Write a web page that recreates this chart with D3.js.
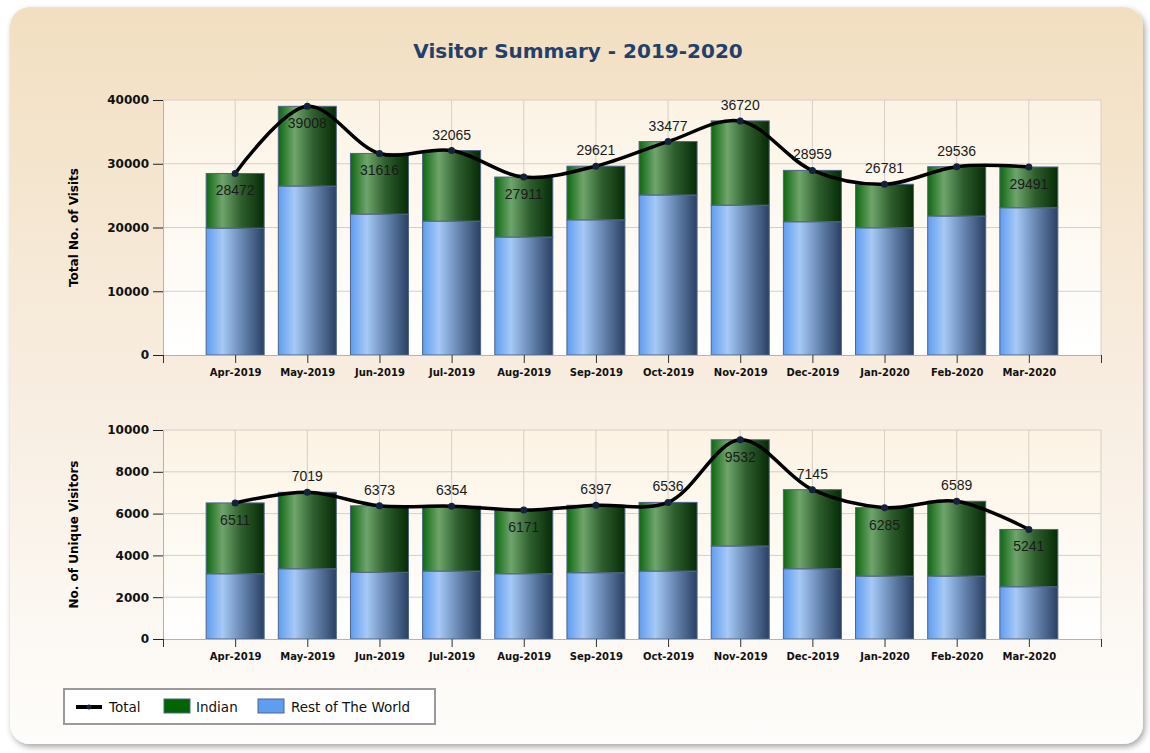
<!doctype html>
<html>
<head>
<script src="https://cdn.jsdelivr.net/npm/d3@7"></script>
<style>
  body { margin: 0; background: #ffffff; }
</style>
</head>
<body>
<svg width="1150" height="753"></svg>
<script>
// data
var months = ["Apr-2019", "May-2019", "Jun-2019", "Jul-2019", "Aug-2019", "Sep-2019",
              "Oct-2019", "Nov-2019", "Dec-2019", "Jan-2020", "Feb-2020", "Mar-2020"];
var visitsTotal = [28472, 39008, 31616, 32065, 27911, 29621, 33477, 36720, 28959, 26781, 29536, 29491];
var visitsRest  = [19900, 26500, 22100, 21000, 18500, 21200, 25100, 23500, 20900, 19950, 21800, 23100];
var visitorsTotal = [6511, 7019, 6373, 6354, 6171, 6397, 6536, 9532, 7145, 6285, 6589, 5241];
var visitorsRest  = [3120, 3360, 3190, 3250, 3120, 3170, 3250, 4450, 3360, 3010, 3010, 2500];
var visitsLabelPos   = ["below", "below", "below", "above", "below", "above", "above", "above", "above", "above", "above", "below"];
var visitorsLabelPos = ["below", "above", "above", "above", "below", "above", "above", "below", "above", "below", "above", "below"];
var visitsTicks = [0, 10000, 20000, 30000, 40000];
var visitorsTicks = [0, 2000, 4000, 6000, 8000, 10000];

var svg = d3.select("svg");
var defs = svg.append("defs");

// gradients
function hGrad(id, stops) {
    var g = defs.append("linearGradient").attr("id", id)
        .attr("x1", "0%").attr("x2", "100%").attr("y1", "0%").attr("y2", "0%");
    stops.forEach(function (s) { g.append("stop").attr("offset", s[0]).attr("stop-color", s[1]); });
}
function vGrad(id, stops) {
    var g = defs.append("linearGradient").attr("id", id)
        .attr("x1", "0%").attr("x2", "0%").attr("y1", "0%").attr("y2", "100%");
    stops.forEach(function (s) { g.append("stop").attr("offset", s[0]).attr("stop-color", s[1]); });
}
hGrad("blueBar", [["0%", "#5f9df0"], ["28%", "#a6c9f6"], ["60%", "#6b8ab5"], ["100%", "#2a4063"]]);
hGrad("greenBar", [["0%", "#0d680f"], ["28%", "#6fa56d"], ["60%", "#2f5f2e"], ["100%", "#062b06"]]);
vGrad("panelBg", [["0%", "#f2dfc1"], ["55%", "#f8eee2"], ["100%", "#fefdfb"]]);
vGrad("plotBg", [["0%", "#fcf3e4"], ["100%", "#ffffff"]]);

var shadow = defs.append("filter").attr("id", "shadow")
    .attr("x", "-5%").attr("y", "-5%").attr("width", "110%").attr("height", "110%");
shadow.append("feDropShadow").attr("dx", 2).attr("dy", 3).attr("stdDeviation", 3)
    .attr("flood-color", "#000").attr("flood-opacity", 0.35);

// panel
svg.append("rect")
    .attr("x", 10).attr("y", 7).attr("width", 1133).attr("height", 737)
    .attr("rx", 20).attr("ry", 20)
    .attr("fill", "url(#panelBg)")
    .attr("filter", "url(#shadow)");

// title
svg.append("text")
    .attr("x", 578).attr("y", 58)
    .attr("text-anchor", "middle")
    .style("font-family", "DejaVu Sans")
    .style("font-weight", "bold")
    .style("font-size", "20px")
    .style("fill", "#243f6b")
    .text("Visitor Summary - 2019-2020");

var x = d3.scaleLinear().domain([0, 13]).range([163, 1101]);
var barW = 58;

function drawChart(opt) {
    var y = d3.scaleLinear().domain([0, opt.max]).range([opt.bottom, opt.top]);
    var g = svg.append("g");

    g.append("rect")
        .attr("x", x(0)).attr("y", opt.top)
        .attr("width", x(13) - x(0)).attr("height", opt.bottom - opt.top)
        .attr("fill", "url(#plotBg)");

    // grid
    g.append("g").selectAll("line.h").data(opt.ticks.slice(1)).enter().append("line")
        .attr("x1", x(0)).attr("x2", x(13))
        .attr("y1", function (d) { return y(d); }).attr("y2", function (d) { return y(d); })
        .style("stroke", "#d6cfc4").style("stroke-width", 1);
    g.append("g").selectAll("line.v").data(d3.range(1, 14)).enter().append("line")
        .attr("x1", function (d) { return x(d); }).attr("x2", function (d) { return x(d); })
        .attr("y1", opt.top).attr("y2", opt.bottom)
        .style("stroke", "#d6cfc4").style("stroke-width", 1);

    // bars
    var idx = d3.range(months.length);
    g.append("g").selectAll("rect").data(idx).enter().append("rect")
        .attr("x", function (i) { return x(i + 1) - barW / 2; })
        .attr("y", function (i) { return y(opt.rest[i]); })
        .attr("width", barW)
        .attr("height", function (i) { return y(0) - y(opt.rest[i]); })
        .attr("fill", "url(#blueBar)")
        .style("stroke", "#4e6587").style("stroke-width", 1);
    g.append("g").selectAll("rect").data(idx).enter().append("rect")
        .attr("x", function (i) { return x(i + 1) - barW / 2; })
        .attr("y", function (i) { return y(opt.total[i]); })
        .attr("width", barW)
        .attr("height", function (i) { return y(opt.rest[i]) - y(opt.total[i]); })
        .attr("fill", "url(#greenBar)")
        .style("stroke", "#4e6587").style("stroke-width", 1);

    // axes
    var yAxis = g.append("g")
        .attr("transform", "translate(" + x(0) + ",0)")
        .call(d3.axisLeft(y).tickValues(opt.ticks).tickSize(10).tickPadding(4).tickSizeOuter(0)
            .tickFormat(d3.format("d")));
    yAxis.select(".domain").style("stroke", "#b9b2a8");
    yAxis.selectAll(".tick line").style("stroke", "#222");
    yAxis.selectAll("text")
        .style("font-family", "DejaVu Sans").style("font-weight", "bold")
        .style("font-size", "12px").style("fill", "#111");

    var xAxis = g.append("g")
        .attr("transform", "translate(0," + opt.bottom + ")")
        .call(d3.axisBottom(x).tickValues(d3.range(0, 14)).tickSize(8).tickPadding(6)
            .tickFormat(function (d) { return months[d - 1] || ""; }));
    xAxis.select(".domain").style("stroke", "#b9b2a8");
    xAxis.selectAll(".tick line").style("stroke", "#333");
    xAxis.selectAll("text")
        .style("font-family", "DejaVu Sans").style("font-weight", "bold")
        .style("font-size", "10px").style("fill", "#111");

    // y title
    svg.append("text")
        .attr("text-anchor", "middle")
        .attr("transform", "translate(78," + (opt.top + opt.bottom) / 2 + ")rotate(-90)")
        .style("font-family", "DejaVu Sans").style("font-weight", "bold")
        .style("font-size", "12px").style("fill", "#000")
        .text(opt.title);

    // total line
    var line = d3.line()
        .x(function (i) { return x(i + 1); })
        .y(function (i) { return y(opt.total[i]); })
        .curve(d3.curveCatmullRom.alpha(0.5));
    g.append("path")
        .datum(idx)
        .attr("d", line)
        .style("fill", "none").style("stroke", "#000").style("stroke-width", 3.5);
    g.append("g").selectAll("circle").data(idx).enter().append("circle")
        .attr("cx", function (i) { return x(i + 1); })
        .attr("cy", function (i) { return y(opt.total[i]); })
        .attr("r", 3.5)
        .style("fill", "#15223a");

    g.append("g").selectAll("text").data(idx).enter().append("text")
        .attr("x", function (i) { return x(i + 1); })
        .attr("y", function (i) { return y(opt.total[i]) + (opt.labelPos[i] === "above" ? -11 : 22); })
        .attr("text-anchor", "middle")
        .style("font-family", "Liberation Sans").style("font-size", "14px")
        .style("fill", "#1a1a1a")
        .text(function (i) { return opt.total[i]; });
}

drawChart({ top: 100, bottom: 355, max: 40000, ticks: visitsTicks, total: visitsTotal,
            rest: visitsRest, labelPos: visitsLabelPos, title: "Total No. of Visits" });
drawChart({ top: 430, bottom: 639, max: 10000, ticks: visitorsTicks, total: visitorsTotal,
            rest: visitorsRest, labelPos: visitorsLabelPos, title: "No. of Unique Visitors" });

// legend
var legend = svg.append("g");
legend.append("rect")
    .attr("x", 64).attr("y", 689).attr("width", 371).attr("height", 35)
    .style("fill", "#fff").style("stroke", "#9a9a9a").style("stroke-width", 2);
legend.append("line")
    .attr("x1", 76).attr("x2", 102).attr("y1", 707).attr("y2", 707)
    .style("stroke", "#000").style("stroke-width", 4);
legend.append("circle").attr("cx", 89).attr("cy", 707).attr("r", 2.5).style("fill", "#15223a");
legend.append("rect").attr("x", 164).attr("y", 699).attr("width", 26).attr("height", 14)
    .style("fill", "#006400").style("stroke", "#4e6587");
legend.append("rect").attr("x", 258).attr("y", 699).attr("width", 26).attr("height", 14)
    .style("fill", "#5f9df0").style("stroke", "#4e6587");
var legendItems = [["Total", 109], ["Indian", 196], ["Rest of The World", 291]];
legend.selectAll("text.item").data(legendItems).enter().append("text")
    .attr("x", function (d) { return d[1]; }).attr("y", 712)
    .style("font-family", "DejaVu Sans").style("font-size", "13.5px").style("fill", "#111")
    .text(function (d) { return d[0]; });
</script>
</body>
</html>
